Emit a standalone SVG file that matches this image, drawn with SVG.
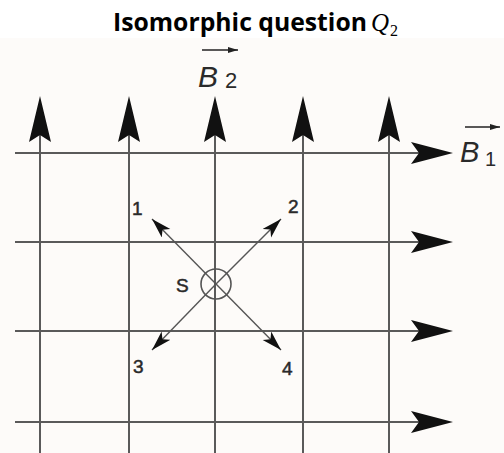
<svg xmlns="http://www.w3.org/2000/svg" width="504" height="453" viewBox="0 0 504 453">
<defs>
<style>
.grid{stroke:#5a5a5a;stroke-width:2;fill:none}
.diag{stroke:#555;stroke-width:1.4;fill:none}
.head{fill:#111}
.lbl{font-family:"Liberation Sans",Arial,sans-serif;fill:#2a2a2a}
.num{font-family:"Liberation Sans",Arial,sans-serif;font-size:19px;fill:#2a2a2a;stroke:#2a2a2a;stroke-width:0.5}
</style>
<marker id="dart" markerUnits="userSpaceOnUse" markerWidth="24" markerHeight="14" refX="20" refY="6" orient="auto">
<path d="M20,6 L0,0 L5,6 L0,12 Z" fill="#111"/>
</marker>
<marker id="vec" markerUnits="userSpaceOnUse" markerWidth="12" markerHeight="8" refX="10" refY="3" orient="auto">
<path d="M10,3 L0,0 L0,6 Z" fill="#222"/>
</marker>
</defs>
<rect width="504" height="453" fill="#ffffff"/>
<rect x="0" y="38" width="504" height="415" fill="#fdfbf9"/>
<g id="title">
<text x="113" y="31" font-family="'Open Sans','Liberation Sans',sans-serif" font-weight="bold" font-size="25" fill="#000" textLength="254" lengthAdjust="spacingAndGlyphs">Isomorphic question</text>
<text x="371" y="31" font-family="'Liberation Serif',serif" font-style="italic" font-size="25" fill="#000">Q</text>
<text x="390" y="36" font-family="'Liberation Serif',serif" font-size="16" fill="#000">2</text>
</g>
<g id="connectors">
<g id="grid-horizontal">
<line class="grid" x1="15" y1="153" x2="420" y2="153"/>
<line class="grid" x1="15" y1="242" x2="420" y2="242"/>
<line class="grid" x1="15" y1="331" x2="420" y2="331"/>
<line class="grid" x1="15" y1="422" x2="420" y2="422"/>
</g>
<g id="grid-vertical">
<line class="grid" x1="40" y1="134" x2="40" y2="453"/>
<line class="grid" x1="129" y1="134" x2="129" y2="453"/>
<line class="grid" x1="215" y1="134" x2="215" y2="453"/>
<line class="grid" x1="303" y1="134" x2="303" y2="453"/>
<line class="grid" x1="389" y1="134" x2="389" y2="453"/>
</g>
<g id="arrowheads">
<path class="head" d="M453,153 L411,142 L419,153 L411,164 Z"/>
<path class="head" d="M453,242 L411,231 L419,242 L411,253 Z"/>
<path class="head" d="M453,331 L411,320 L419,331 L411,342 Z"/>
<path class="head" d="M453,422 L411,411 L419,422 L411,433 Z"/>
<path class="head" d="M40,96 L29,142 L40,135 L51,142 Z"/>
<path class="head" d="M129,96 L118,142 L129,135 L140,142 Z"/>
<path class="head" d="M215,96 L204,142 L215,135 L226,142 Z"/>
<path class="head" d="M303,96 L292,142 L303,135 L314,142 Z"/>
<path class="head" d="M389,96 L378,142 L389,135 L400,142 Z"/>
</g>
<g id="diagonals">
<line class="diag" x1="216" y1="284" x2="152" y2="219" marker-end="url(#dart)"/>
<line class="diag" x1="216" y1="284" x2="281" y2="219" marker-end="url(#dart)"/>
<line class="diag" x1="216" y1="284" x2="152" y2="350" marker-end="url(#dart)"/>
<line class="diag" x1="216" y1="284" x2="281" y2="350" marker-end="url(#dart)"/>
</g>
</g>
<g id="node-S">
<circle cx="216" cy="284" r="15" fill="none" stroke="#555" stroke-width="1.6"/>
<text class="num" x="176" y="292">S</text>
</g>
<g id="label-1"><text class="num" x="132" y="215">1</text></g>
<g id="label-2"><text class="num" x="288" y="213">2</text></g>
<g id="label-3"><text class="num" x="133" y="373">3</text></g>
<g id="label-4"><text class="num" x="282" y="375">4</text></g>
<g id="label-B2">
<line x1="202" y1="50" x2="238" y2="50" stroke="#222" stroke-width="1.5" marker-end="url(#vec)"/>
<text class="lbl" x="198" y="87" font-size="30" font-style="italic">B</text>
<text class="lbl" x="225" y="88" font-size="22">2</text>
</g>
<g id="label-B1">
<line x1="465" y1="127" x2="500" y2="127" stroke="#222" stroke-width="1.5" marker-end="url(#vec)"/>
<text class="lbl" x="460" y="162" font-size="29" font-style="italic">B</text>
<text class="lbl" x="485" y="166" font-size="20">1</text>
</g>
</svg>
